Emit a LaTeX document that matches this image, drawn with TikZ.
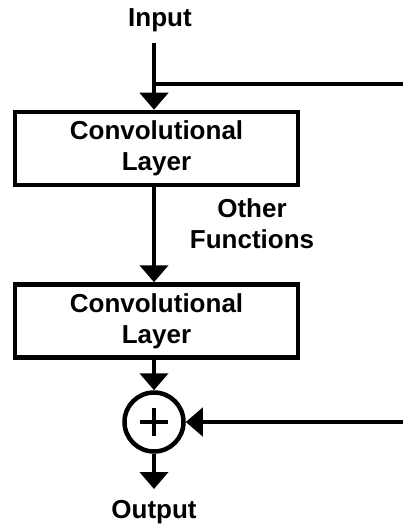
\documentclass[tikz,border=0pt]{standalone}
\usepackage{fontspec}
\setmainfont{Liberation Sans}
\usetikzlibrary{arrows.meta,calc}
\tikzset{
  lbl/.style={font=\bfseries\fontsize{26}{31}\selectfont, inner sep=0pt, align=center},
  layerbox/.style={draw, line width=4.5pt, minimum width=283pt, minimum height=73pt, inner sep=0pt,
    font=\bfseries\fontsize{26}{31}\selectfont, align=center},
  arr/.style={line width=4.5pt, -{Triangle[length=17pt,width=28pt]}},
  ln/.style={line width=4.5pt},
  sumnode/.style={draw, circle, line width=4.5pt, minimum size=59pt, inner sep=0pt}
}
\begin{document}
\begin{tikzpicture}[x=1pt,y=-1pt]
\useasboundingbox (0,0) rectangle (403,526);
\node[lbl, anchor=base] (input) at (160,27) {Input};
\coordinate (in) at (154,43);
\coordinate (split) at (154,84);
\coordinate (right1) at (405,84);
\node[layerbox] (b1) at (156.5,148.5) {Convolutional\\Layer};
\node[layerbox] (b2) at (156.5,321) {Convolutional\\Layer};
\node[lbl, anchor=north] (other) at (252,198) {Other\\Functions};
\node[sumnode] (sum) at (154,422) {};
\draw[line width=4pt] ($(sum.center)+(-14,0)$) -- ($(sum.center)+(14,0)$);
\draw[line width=4pt] ($(sum.center)+(0,-14)$) -- ($(sum.center)+(0,14)$);
\coordinate (right2) at (405,422);
\coordinate (outend) at (154,489);
\node[lbl, anchor=base] (output) at (154,518) {Output};
\draw[ln] (split) -- (right1);
\draw[arr] (in) -- (in |- b1.north);
\draw[arr] (in |- b1.south) -- (in |- b2.north);
\draw[arr] (in |- b2.south) -- (sum.north);
\draw[arr] (right2) -- (sum.east);
\draw[arr] (sum.south) -- (outend);
\end{tikzpicture}
\end{document}
